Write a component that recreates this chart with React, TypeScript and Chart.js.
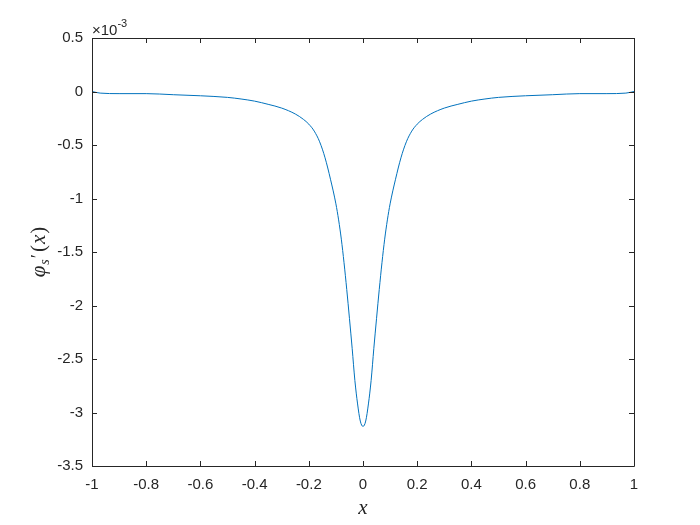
import React, { useEffect, useRef } from "react";
import { Chart, registerables } from "chart.js";

Chart.register(...registerables);

// x positions and derivative values (units of 1e-3)
const xValues = [
  -1, -0.97, -0.9, -0.8, -0.7, -0.6, -0.5, -0.45, -0.4, -0.35, -0.3, -0.25, -0.22, -0.2, -0.18, -0.16, -0.14, -0.12,
  -0.1, -0.09, -0.08, -0.07, -0.06, -0.05, -0.04, -0.03, -0.02, -0.01, 0,
  0.01, 0.02, 0.03, 0.04, 0.05, 0.06, 0.07, 0.08, 0.09, 0.1,
  0.12, 0.14, 0.16, 0.18, 0.2, 0.22, 0.25, 0.3, 0.35, 0.4, 0.45, 0.5, 0.6, 0.7, 0.8, 0.9, 0.97, 1,
];
const yValues = [
  0, -0.015, -0.02, -0.02, -0.03, -0.04, -0.055, -0.07, -0.09, -0.12, -0.155, -0.21, -0.26, -0.305, -0.37, -0.47, -0.62, -0.82,
  -1.05, -1.2, -1.38, -1.6, -1.85, -2.12, -2.4, -2.7, -2.92, -3.08, -3.13,
  -3.08, -2.92, -2.7, -2.4, -2.12, -1.85, -1.6, -1.38, -1.2, -1.05,
  -0.82, -0.62, -0.47, -0.37, -0.305, -0.26, -0.21, -0.155, -0.12, -0.09, -0.07, -0.055, -0.04, -0.03, -0.02, -0.02, -0.015, 0,
];
const xTicks = [-1, -0.8, -0.6, -0.4, -0.2, 0, 0.2, 0.4, 0.6, 0.8, 1];
const yTicks = [0.5, 0, -0.5, -1, -1.5, -2, -2.5, -3, -3.5];

const AXIS = "#262626";
const LINE = "#0072BD";
const SANS = "'Liberation Sans', Arial, sans-serif";
const SERIF = "'Liberation Serif', 'DejaVu Serif', serif";
const fmt = (v: number) => String(Number(v.toFixed(2)));

const framePlugin = {
  id: "matlabFrame",
  afterDraw(chart: any) {
    const { ctx, chartArea } = chart;
    const { left, right, top, bottom } = chartArea;
    const xs = chart.scales.x;
    const ys = chart.scales.y;
    const tl = 5;
    ctx.save();
    ctx.strokeStyle = AXIS;
    ctx.lineWidth = 1;
    ctx.beginPath();
    ctx.rect(Math.round(left) + 0.5, Math.round(top) + 0.5, Math.round(right - left), Math.round(bottom - top));
    ctx.stroke();
    ctx.beginPath();
    xTicks.forEach((v) => {
      const px = Math.round(xs.getPixelForValue(v)) + 0.5;
      ctx.moveTo(px, bottom);
      ctx.lineTo(px, bottom - tl);
      ctx.moveTo(px, top);
      ctx.lineTo(px, top + tl);
    });
    yTicks.forEach((v) => {
      const py = Math.round(ys.getPixelForValue(v)) + 0.5;
      ctx.moveTo(left, py);
      ctx.lineTo(left + tl, py);
      ctx.moveTo(right, py);
      ctx.lineTo(right - tl, py);
    });
    ctx.stroke();

    // exponent label
    ctx.fillStyle = AXIS;
    ctx.textBaseline = "alphabetic";
    ctx.textAlign = "left";
    ctx.font = `15px ${SANS}`;
    const base = "\u00d710";
    ctx.fillText(base, left, top - 3);
    const w = ctx.measureText(base).width;
    ctx.font = `11px ${SANS}`;
    ctx.fillText("-3", left + w, top - 11);

    // x axis title
    ctx.font = `italic 21px ${SERIF}`;
    ctx.textAlign = "center";
    ctx.textBaseline = "middle";
    ctx.fillText("x", (left + right) / 2, 508);

    // y axis title: φs′(x)
    ctx.translate(38.5, (top + bottom) / 2);
    ctx.rotate(-Math.PI / 2);
    const parts: [string, string, number, number][] = [
      ["\u03c6", `italic 21px ${SERIF}`, 0, 1],
      ["s", `italic 14px ${SERIF}`, 4, 1],
      ["\u2032", `19px ${SERIF}`, -1, 2],
      ["(", `21px ${SERIF}`, 0, 1],
      ["x", `italic 21px ${SERIF}`, 0, 1],
      [")", `21px ${SERIF}`, 0, 0],
    ];
    let total = 0;
    const widths: number[] = [];
    parts.forEach(([t, f, , gap]) => {
      ctx.font = f;
      const ww = ctx.measureText(t).width + gap;
      widths.push(ww);
      total += ww;
    });
    let cx = -total / 2;
    ctx.textAlign = "left";
    ctx.textBaseline = "alphabetic";
    parts.forEach(([t, f, dy], i) => {
      ctx.font = f;
      ctx.fillText(t, cx, 6 + dy);
      cx += widths[i];
    });
    ctx.restore();
  },
};

export default function App() {
  const ref = useRef<HTMLCanvasElement | null>(null);
  useEffect(() => {
    if (!ref.current) return;
    const data = xValues.map((x, i) => ({ x, y: yValues[i] }));
    const tickFont = { family: SANS, size: 15 };
    const chart = new Chart(ref.current, {
      type: "line",
      data: {
        datasets: [
          {
            data,
            borderColor: LINE,
            borderWidth: 1,
            pointRadius: 0,
            cubicInterpolationMode: "monotone",
            fill: false,
          },
        ],
      },
      options: {
        animation: false,
        responsive: false,
        devicePixelRatio: 1,
        layout: { padding: { left: 0, right: 66, top: 38, bottom: 0 } },
        plugins: { legend: { display: false }, tooltip: { enabled: false } },
        scales: {
          x: {
            type: "linear",
            min: -1,
            max: 1,
            grid: { display: false, drawTicks: false },
            border: { display: false },
            afterBuildTicks: (s: any) => {
              s.ticks = xTicks.map((v) => ({ value: v }));
            },
            afterFit: (s: any) => {
              s.height = 59;
            },
            ticks: { color: AXIS, font: tickFont, padding: 10, maxRotation: 0, autoSkip: false, callback: (v: any) => fmt(Number(v)) },
          },
          y: {
            type: "linear",
            min: -3.5,
            max: 0.5,
            grid: { display: false, drawTicks: false },
            border: { display: false },
            afterBuildTicks: (s: any) => {
              s.ticks = yTicks.map((v) => ({ value: v }));
            },
            afterFit: (s: any) => {
              s.width = 92;
            },
            ticks: { color: AXIS, font: tickFont, padding: 9, autoSkip: false, callback: (v: any) => fmt(Number(v)) },
          },
        },
      } as any,
      plugins: [framePlugin],
    });
    return () => chart.destroy();
  }, []);
  return (
    <div style={{ position: "fixed", left: 0, top: 0, width: 700, height: 525, background: "#fff" }}>
      <canvas ref={ref} width={700} height={525} />
    </div>
  );
}
